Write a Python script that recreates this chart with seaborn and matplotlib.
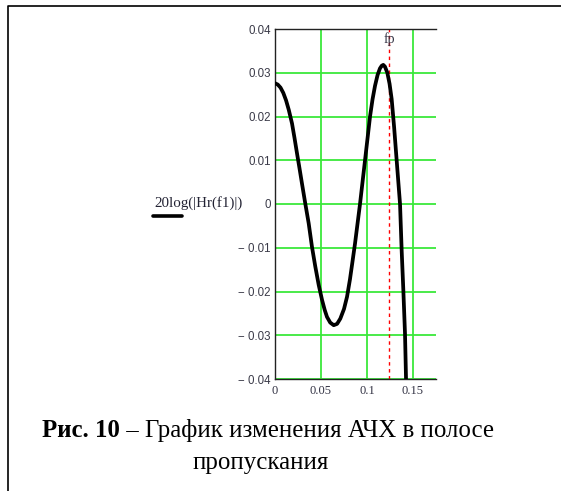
import numpy as np
import pandas as pd
import matplotlib
matplotlib.use("Agg")
import matplotlib.pyplot as plt
import seaborn as sns
from matplotlib.lines import Line2D

# Data
f1 = [0.0, 0.003, 0.006, 0.009, 0.012, 0.015, 0.0185, 0.0212, 0.0239, 0.0266,
      0.0293, 0.033, 0.0366, 0.0402, 0.0438, 0.0475, 0.0511, 0.0540, 0.0565, 0.0600,
      0.0638, 0.0675, 0.071, 0.0750, 0.0783, 0.0815, 0.0840, 0.087,
      0.0924, 0.0978, 0.1033, 0.1060, 0.1087, 0.1115, 0.1141, 0.1160, 0.1177, 0.1195,
      0.1221, 0.1245, 0.1268, 0.1295, 0.1322, 0.1359, 0.1377, 0.1395, 0.1413, 0.1424,
      0.1428]
gain = [0.0276, 0.0273, 0.0266, 0.0254, 0.0237, 0.0215, 0.0184, 0.0151, 0.0116, 0.0082,
        0.0047, 0.0, -0.0044, -0.0098, -0.0143, -0.0185, -0.0219, -0.0242, -0.0258, -0.0271,
        -0.0277, -0.0274, -0.0262, -0.0240, -0.0212, -0.0172, -0.0135, -0.0090,
        0.0, 0.0099, 0.0200, 0.0239, 0.0270, 0.0295, 0.0310, 0.0316, 0.0318, 0.0314,
        0.0300, 0.0275, 0.0240, 0.0175, 0.0101, 0.0, -0.0107, -0.0197, -0.0296, -0.0398,
        -0.0420]
fp = 0.1243
y_ticks = [-0.04, -0.03, -0.02, -0.01, 0.0, 0.01, 0.02, 0.03, 0.04]
y_labels = ["\u2212 0.04", "\u2212 0.03", "\u2212 0.02", "\u2212 0.01", "0",
            "0.01", "0.02", "0.03", "0.04"]
x_ticks = [0, 0.05, 0.1, 0.15]
x_labels = ["0", "0.05", "0.1", "0.15"]
caption_bold = "Рис. 10"
caption_rest = " – График изменения АЧХ в полосе"
caption_line2 = "пропускания"
ylabel_text = "20log(|Hr(f1)|)"

sns.set_style("white")
plt.rcParams["font.family"] = ["Liberation Serif", "DejaVu Serif"]

W, H = 561, 491
fig = plt.figure(figsize=(W / 100, H / 100), dpi=100)

ax = fig.add_axes([275 / W, 1 - 379 / H, 161 / W, 350 / H])
df = pd.DataFrame({"f1": f1, "gain": gain})
sns.lineplot(data=df, x="f1", y="gain", sort=False, estimator=None,
             color="black", linewidth=2.7, ax=ax, zorder=3)

ax.axvline(fp, color="red", linestyle=(0, (2.5, 2.5)), linewidth=1.0, zorder=2)
ax.text(fp, 0.0377, "fp", ha="center", va="center", fontsize=10,
        color="#333344", family="Liberation Serif")

ax.set_xlim(0, 0.175)
ax.set_ylim(-0.04, 0.04)
ax.set_xticks(x_ticks)
ax.set_xticklabels(x_labels, fontsize=9, color="#333344", family="Liberation Serif")
ax.set_yticks(y_ticks)
ax.set_yticklabels(y_labels, fontsize=8.3, color="#3a3a48", family="Liberation Sans")
ax.tick_params(axis="both", length=0)
ax.tick_params(axis="x", pad=4)
ax.tick_params(axis="y", pad=3)
ax.grid(True, color="#3ae83a", linewidth=1.3)
ax.set_axisbelow(True)
ax.set_xlabel("")
ax.set_ylabel("")
for s in ["left", "top", "bottom"]:
    ax.spines[s].set_visible(True)
    ax.spines[s].set_color("#222222")
    ax.spines[s].set_linewidth(1.0)
ax.spines["right"].set_visible(False)

# y label (Mathcad style) with line sample
fig.text(154 / W, 1 - 203 / H, ylabel_text, ha="left", va="center",
         fontsize=10.8, color="#222233", family="Liberation Serif")
fig.add_artist(Line2D([153 / W, 182 / W], [1 - 216 / H, 1 - 216 / H],
                      color="black", linewidth=2.6, transform=fig.transFigure))

# border
fig.add_artist(Line2D([7.5 / W, 7.5 / W, 1.0], [0.0, 1 - 5.5 / H, 1 - 5.5 / H],
                      color="black", linewidth=1.2, transform=fig.transFigure))

# caption
fs = 17.9
t1 = fig.text(42 / W, 1 - 437 / H, caption_bold, ha="left", va="baseline",
              fontsize=fs, fontweight="bold", family="Liberation Serif", color="black")
fig.canvas.draw()
r = fig.canvas.get_renderer()
bb = t1.get_window_extent(r)
fig.text(bb.x1 / W, 1 - 437 / H, caption_rest, ha="left", va="baseline",
         fontsize=fs, family="Liberation Serif", color="black")
fig.text(261 / W, 1 - 469 / H, caption_line2, ha="center", va="baseline",
         fontsize=fs, family="Liberation Serif", color="black")

fig.savefig("out.png", dpi=100)
